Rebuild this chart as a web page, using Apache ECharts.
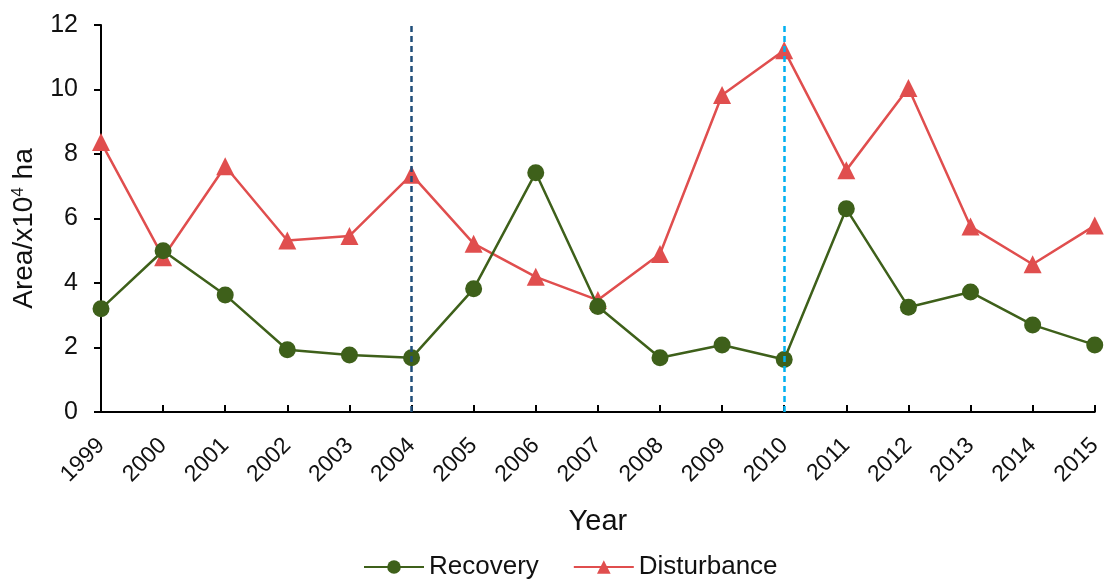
<!DOCTYPE html>
<html>
<head>
<meta charset="utf-8">
<script src="https://cdn.jsdelivr.net/npm/echarts@6/dist/echarts.min.js"></script>
<style>
html,body{margin:0;padding:0;background:#fff;}
#chart{width:1105px;height:581px;}
</style>
</head>
<body>
<div id="chart"></div>
<script>
const years = ['1999','2000','2001','2002','2003','2004','2005','2006','2007','2008','2009','2010','2011','2012','2013','2014','2015'];
const recovery = [3.2, 5.0, 3.63, 1.93, 1.77, 1.68, 3.82, 7.42, 3.27, 1.68, 2.08, 1.63, 6.3, 3.25, 3.72, 2.7, 2.08];
const disturbance = [8.37, 4.8, 7.62, 5.32, 5.46, 7.36, 5.22, 4.19, 3.47, 4.9, 9.83, 11.22, 7.5, 10.05, 5.75, 4.58, 5.78];
const markYears = ['2004', '2010'];
const yTicks = {min: 0, max: 12, interval: 2};

const green = '#3E601A';
const red = '#E04E4E';
const font = 'Liberation Sans, Arial, sans-serif';

const chart = echarts.init(document.getElementById('chart'));
chart.setOption({
  animation: false,
  textStyle: {fontFamily: font},
  grid: {left: 101, right: 8, top: 25, bottom: 169, containLabel: false},
  legend: {
    top: 549,
    left: 358,
    itemWidth: 60,
    itemHeight: 17,
    itemGap: 34,
    textStyle: {fontSize: 26, color: '#111', fontFamily: font},
    data: ['Recovery', 'Disturbance']
  },
  xAxis: {
    type: 'category',
    data: years,
    boundaryGap: false,
    name: 'Year',
    nameLocation: 'middle',
    nameGap: 95,
    nameTextStyle: {fontSize: 29, color: '#111', fontFamily: font},
    axisLine: {lineStyle: {color: '#000', width: 2}},
    axisTick: {inside: true, length: 7, lineStyle: {color: '#000', width: 2}, alignWithLabel: true},
    axisLabel: {rotate: 45, fontSize: 23, color: '#111', margin: 30, fontFamily: font, interval: 0},
    splitLine: {show: false}
  },
  yAxis: {
    type: 'value',
    min: yTicks.min,
    max: yTicks.max,
    interval: yTicks.interval,
    name: 'Area/x10{sup|4} ha',
    nameLocation: 'middle',
    nameGap: 53,
    nameTextStyle: {
      fontSize: 28, color: '#111', fontFamily: font,
      padding: [0, 20, 0, 0],
      rich: {sup: {fontSize: 17, verticalAlign: 'top', lineHeight: 17, color: '#111', fontFamily: font, padding: [0, 0, 12, 0]}}
    },
    axisLine: {show: true, lineStyle: {color: '#000', width: 2}},
    axisTick: {show: true, length: 7, lineStyle: {color: '#000', width: 2}},
    axisLabel: {fontSize: 25, color: '#111', margin: 23, fontFamily: font},
    splitLine: {show: false}
  },
  series: [
    {
      name: 'Recovery',
      type: 'line',
      data: recovery,
      symbol: 'circle',
      symbolSize: 17,
      itemStyle: {color: green},
      lineStyle: {color: green, width: 2.5},
      z: 3,
      markLine: {
        silent: true,
        symbol: 'none',
        label: {show: false},
        data: [
          {xAxis: markYears[0], lineStyle: {color: '#1F4E79', type: [6, 4], width: 2.5}},
          {xAxis: markYears[1], lineStyle: {color: '#00B0F0', type: [6, 4], width: 2.5}}
        ]
      }
    },
    {
      name: 'Disturbance',
      type: 'line',
      data: disturbance,
      symbol: 'triangle',
      symbolSize: 18,
      itemStyle: {color: red},
      lineStyle: {color: red, width: 2.5},
      z: 2
    }
  ]
});
</script>
</body>
</html>
